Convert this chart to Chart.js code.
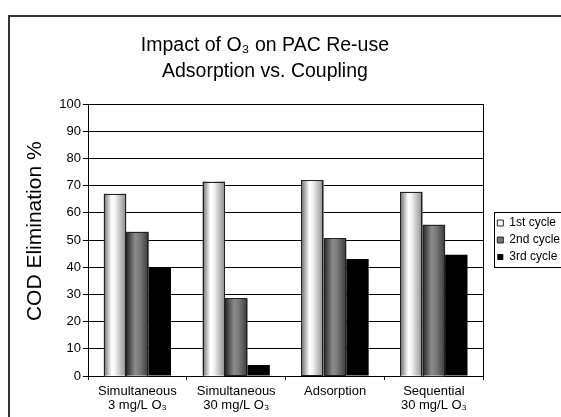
<!DOCTYPE html>
<html>
<head>
<meta charset="utf-8">
<script src="https://cdn.jsdelivr.net/npm/chart.js@4"></script>
<style>
  html, body { margin: 0; padding: 0; background: #fff; }
  #wrap { width: 561px; height: 417px; }
</style>
</head>
<body>
<div id="wrap"><canvas id="myChart"></canvas></div>
<script>
const categories = [
  ["Simultaneous", "3 mg/L O\u2083"],
  ["Simultaneous", "30 mg/L O\u2083"],
  ["Adsorption"],
  ["Sequential", "30 mg/L O\u2083"],
];
const seriesNames = ["1st cycle", "2nd cycle", "3rd cycle"];
const firstCycle = [67, 71.5, 72, 67.7];
const secondCycle = [53, 28.5, 50.7, 55.6];
const thirdCycle = [40, 4, 43, 44.6];
const yTicks = [0, 10, 20, 30, 40, 50, 60, 70, 80, 90, 100];

// left-to-right shading for the "cylinder" look of the bars
const shades = [
  [[0, "#6e6e6e"], [0.35, "#ffffff"], [0.5, "#f4f4f4"], [1, "#8a8a8a"]],
  [[0, "#262626"], [0.4, "#8c8c8c"], [0.6, "#7a7a7a"], [1, "#3a3a3a"]],
];

const frame = {
  id: "frame",
  beforeDraw(chart) {
    const c = chart.ctx;
    c.save();
    c.strokeStyle = "#333";
    c.lineWidth = 2;
    c.beginPath();
    c.moveTo(9, 430);
    c.lineTo(9, 16);
    c.lineTo(570, 16);
    c.stroke();
    c.restore();
  },
};

const shading = {
  id: "shading",
  afterDatasetsDraw(chart) {
    const c = chart.ctx;
    shades.forEach((stops, i) => {
      const meta = chart.getDatasetMeta(i);
      meta.data.forEach((bar) => {
        const { x, y, base, width } = bar.getProps(["x", "y", "base", "width"], true);
        const left = x - width / 2;
        const g = c.createLinearGradient(left, 0, left + width, 0);
        stops.forEach((s) => g.addColorStop(s[0], s[1]));
        c.save();
        c.fillStyle = g;
        c.fillRect(left, y, width, base - y);
        c.strokeStyle = "#222";
        c.lineWidth = 1;
        c.strokeRect(Math.round(left) + 0.5, Math.round(y) + 0.5, Math.round(width) - 1, Math.round(base - y));
        c.restore();
      });
    });
  },
};

const legendBox = {
  id: "legendBox",
  afterDraw(chart) {
    const boxes = chart.legend.legendHitBoxes;
    if (!boxes || !boxes.length) return;
    const first = boxes[0];
    const last = boxes[boxes.length - 1];
    const c = chart.ctx;
    c.save();
    c.strokeStyle = "#000";
    c.lineWidth = 1;
    const left = Math.round(first.left) - 2.5;
    const top = Math.round(first.top) - 4.5;
    const bottom = Math.round(last.top + last.height) + 4.5;
    c.strokeRect(left, top, 600, bottom - top);
    c.restore();
  },
};

const ctx = document.getElementById("myChart").getContext("2d");
new Chart(ctx, {
  type: "bar",
  data: {
    labels: categories,
    datasets: [
      { label: seriesNames[0], data: firstCycle, backgroundColor: "#ffffff", borderColor: "#222", borderWidth: 1 },
      { label: seriesNames[1], data: secondCycle, backgroundColor: "#777777", borderColor: "#222", borderWidth: 1 },
      { label: seriesNames[2], data: thirdCycle, backgroundColor: "#000000", borderColor: "#000", borderWidth: 0 },
    ],
  },
  options: {
    responsive: true,
    maintainAspectRatio: false,
    animation: false,
    events: [],
    layout: { padding: { top: 33, left: 14, right: -9, bottom: 0 } },
    datasets: {
      bar: { categoryPercentage: 0.68, barPercentage: 1 },
    },
    plugins: {
      title: {
        display: true,
        // trailing spaces pull the centred title a little to the left, as in the original
        text: ["Impact of O\u2083 on PAC Re-use          ", "Adsorption vs. Coupling          "],
        color: "#000",
        font: { family: "Arial, 'Liberation Sans'", size: 19.5, weight: "normal", lineHeight: "26px" },
        padding: { top: 0, bottom: 19 },
      },
      legend: {
        position: "right",
        align: "center",
        fullSize: false,
        labels: {
          color: "#000",
          boxWidth: 6,
          boxHeight: 6,
          padding: 5,
          font: { family: "Arial, 'Liberation Sans'", size: 12 },
        },
      },
      tooltip: { enabled: false },
    },
    scales: {
      x: {
        offset: true,
        grid: { display: true, drawOnChartArea: false, tickLength: 4, color: "#000", offset: true },
        border: { color: "#000", width: 1 },
        ticks: {
          color: "#000",
          padding: 4,
          maxRotation: 0,
          font: { family: "Arial, 'Liberation Sans'", size: 13, lineHeight: "14px" },
        },
        afterFit(scale) { scale.height = 41; },
      },
      y: {
        min: 0,
        max: 100,
        afterBuildTicks(scale) { scale.ticks = yTicks.map((v) => ({ value: v })); },
        grid: { color: "#000", lineWidth: 1, tickLength: 5 },
        border: { color: "#000", width: 1 },
        ticks: {
          color: "#000",
          padding: 2,
          font: { family: "Arial, 'Liberation Sans'", size: 13 },
        },
        title: {
          display: true,
          text: "   COD Elimination %",
          color: "#000",
          font: { family: "Arial, 'Liberation Sans'", size: 21 },
          padding: { top: 9, bottom: 0 },
        },
        afterFit(scale) { scale.width = 74; },
      },
      y2: {
        position: "right",
        display: true,
        min: 0,
        max: 100,
        grid: { drawOnChartArea: false, drawTicks: false },
        border: { color: "#000", width: 1 },
        ticks: { display: false },
        afterFit(scale) { scale.width = 9; },
      },
    },
  },
  plugins: [frame, shading, legendBox],
});
</script>
</body>
</html>
